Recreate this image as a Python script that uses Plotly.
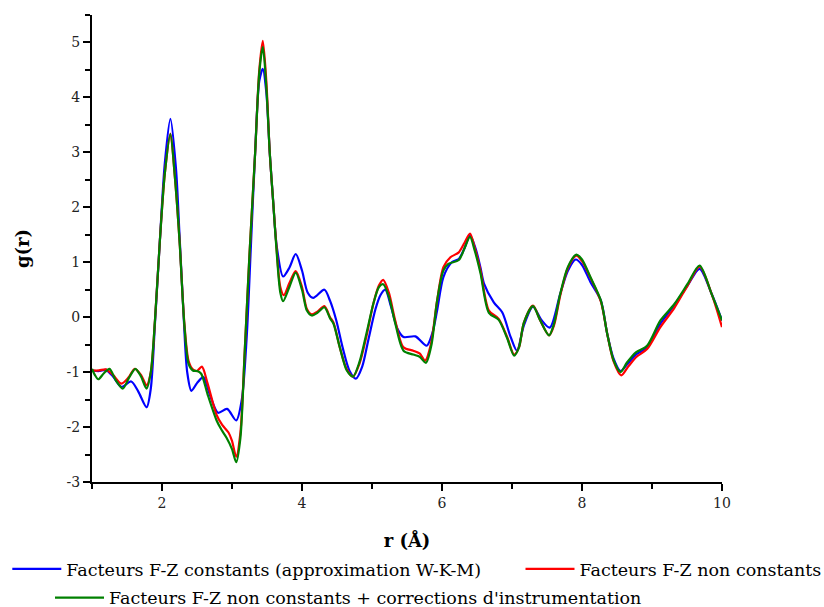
import plotly.graph_objects as go

# g(r) radial distribution, three treatments of the F-Z factors
r_wkm = [1.00, 1.10, 1.20, 1.30, 1.42, 1.56, 1.66, 1.78, 1.84, 1.90, 1.97, 2.04, 2.12, 2.20, 2.25,
         2.31, 2.36, 2.42, 2.50, 2.59, 2.68, 2.80, 2.93, 3.06, 3.14, 3.21, 3.27, 3.33, 3.39, 3.44,
         3.49, 3.54, 3.59, 3.64, 3.73, 3.82, 3.91, 4.00, 4.08, 4.16, 4.32, 4.40, 4.49, 4.58, 4.68,
         4.77, 4.86, 4.95, 5.05, 5.12, 5.19, 5.27, 5.36, 5.45, 5.62, 5.78, 5.86, 5.93, 6.02, 6.14,
         6.24, 6.32, 6.40, 6.48, 6.55, 6.60, 6.74, 6.86, 6.98, 7.07, 7.17, 7.30, 7.42, 7.54, 7.69,
         7.80, 7.91, 8.00, 8.12, 8.27, 8.36, 8.45, 8.55, 8.65, 8.77, 8.93, 9.12, 9.32, 9.51, 9.68,
         9.85, 10.00]
g_wkm = [-0.97, -0.98, -0.96, -1.08, -1.27, -1.17, -1.35, -1.64, -1.30, -0.10, 1.40, 2.80, 3.61, 2.70, 1.50,
         0.00, -1.00, -1.34, -1.20, -1.09, -1.40, -1.74, -1.67, -1.88, -1.50, -0.36, 1.30, 2.98, 4.30, 4.52,
         4.10, 2.98, 2.07, 1.28, 0.74, 0.90, 1.15, 0.85, 0.45, 0.35, 0.50, 0.30, -0.06, -0.55, -0.98,
         -1.12, -0.90, -0.40, 0.15, 0.40, 0.50, 0.20, -0.20, -0.36, -0.35, -0.52, -0.30, 0.12, 0.73, 1.00,
         1.06, 1.25, 1.49, 1.25, 0.90, 0.61, 0.27, 0.09, -0.36, -0.61, -0.15, 0.19, -0.05, -0.19, 0.43,
         0.85, 1.05, 0.95, 0.64, 0.30, -0.30, -0.75, -0.98, -0.85, -0.68, -0.55, -0.12, 0.22, 0.58, 0.88,
         0.43, -0.06]

r_var = [1.00, 1.10, 1.20, 1.30, 1.42, 1.52, 1.61, 1.70, 1.78, 1.84, 1.90, 1.97, 2.04, 2.12, 2.18,
         2.25, 2.32, 2.38, 2.44, 2.50, 2.57, 2.65, 2.78, 2.86, 2.95, 3.00, 3.06, 3.12, 3.18, 3.25,
         3.33, 3.39, 3.44, 3.49, 3.54, 3.59, 3.64, 3.69, 3.74, 3.82, 3.91, 4.00, 4.07, 4.14, 4.22,
         4.32, 4.40, 4.45, 4.54, 4.64, 4.73, 4.82, 4.92, 5.02, 5.10, 5.16, 5.24, 5.33, 5.45, 5.59,
         5.68, 5.76, 5.84, 5.93, 6.02, 6.12, 6.24, 6.32, 6.40, 6.47, 6.55, 6.67, 6.81, 6.93, 7.03,
         7.10, 7.17, 7.30, 7.40, 7.53, 7.60, 7.69, 7.80, 7.92, 8.00, 8.12, 8.27, 8.36, 8.45, 8.56,
         8.66, 8.78, 8.93, 9.12, 9.32, 9.51, 9.68, 9.85, 10.00]
g_var = [-0.97, -0.97, -0.95, -1.05, -1.21, -1.10, -0.94, -1.05, -1.24, -1.00, -0.05, 1.40, 2.61, 3.34, 2.61,
         1.40, -0.12, -0.80, -0.95, -0.98, -0.90, -1.20, -1.78, -1.96, -2.10, -2.25, -2.54, -2.10, -0.67, 1.15,
         2.98, 4.50, 5.03, 4.30, 2.98, 2.07, 1.20, 0.55, 0.40, 0.62, 0.84, 0.55, 0.15, 0.05, 0.10,
         0.20, 0.00, -0.10, -0.55, -0.95, -1.08, -0.85, -0.35, 0.25, 0.58, 0.68, 0.45, -0.05, -0.55, -0.61,
         -0.66, -0.79, -0.50, 0.30, 0.91, 1.09, 1.18, 1.35, 1.52, 1.25, 0.85, 0.12, -0.03, -0.36, -0.68,
         -0.55, -0.10, 0.21, -0.05, -0.33, -0.15, 0.40, 0.90, 1.12, 1.02, 0.72, 0.28, -0.30, -0.80, -1.06,
         -0.90, -0.72, -0.58, -0.18, 0.17, 0.58, 0.92, 0.43, -0.18]

r_instr = [1.00, 1.04, 1.09, 1.17, 1.25, 1.34, 1.44, 1.53, 1.62, 1.70, 1.78, 1.84, 1.90, 1.97, 2.04,
           2.12, 2.18, 2.25, 2.32, 2.38, 2.44, 2.50, 2.56, 2.65, 2.78, 2.85, 2.92, 3.00, 3.06, 3.12,
           3.18, 3.25, 3.33, 3.39, 3.44, 3.49, 3.54, 3.59, 3.64, 3.69, 3.73, 3.82, 3.91, 4.00, 4.07,
           4.14, 4.22, 4.32, 4.40, 4.45, 4.54, 4.64, 4.73, 4.82, 4.92, 5.02, 5.10, 5.16, 5.24, 5.33,
           5.45, 5.59, 5.68, 5.77, 5.85, 5.93, 6.02, 6.09, 6.24, 6.32, 6.40, 6.47, 6.55, 6.67, 6.81,
           6.93, 7.03, 7.10, 7.17, 7.30, 7.40, 7.53, 7.60, 7.69, 7.80, 7.92, 8.00, 8.12, 8.27, 8.36,
           8.45, 8.55, 8.64, 8.77, 8.93, 9.12, 9.32, 9.51, 9.68, 9.85, 10.00]
g_instr = [-0.94, -1.05, -1.13, -1.02, -0.94, -1.15, -1.30, -1.10, -0.94, -1.08, -1.30, -1.00, -0.05, 1.40, 2.61,
           3.33, 2.61, 1.40, -0.15, -0.85, -0.97, -0.98, -1.03, -1.40, -1.88, -2.05, -2.19, -2.40, -2.64, -2.20,
           -0.67, 1.15, 2.98, 4.45, 4.92, 4.20, 2.98, 2.07, 1.15, 0.45, 0.29, 0.55, 0.81, 0.50, 0.12,
           0.03, 0.08, 0.18, -0.02, -0.12, -0.55, -0.97, -1.08, -0.82, -0.30, 0.25, 0.55, 0.60, 0.38, -0.10,
           -0.61, -0.68, -0.72, -0.83, -0.50, 0.30, 0.85, 0.97, 1.04, 1.25, 1.46, 1.20, 0.80, 0.08, -0.05,
           -0.38, -0.70, -0.55, -0.10, 0.20, -0.05, -0.33, -0.12, 0.43, 0.92, 1.14, 1.05, 0.73, 0.30, -0.30,
           -0.78, -1.00, -0.83, -0.64, -0.52, -0.06, 0.24, 0.61, 0.94, 0.43, -0.06]

names = [
    "Facteurs F-Z constants (approximation W-K-M)",
    "Facteurs F-Z non constants",
    "Facteurs F-Z non constants + corrections d'instrumentation",
]
colors = ["#0000ff", "#ff0000", "#008000"]
x_ticks = [2, 4, 6, 8, 10]
y_ticks = [-3, -2, -1, 0, 1, 2, 3, 4, 5]

SERIF = "DejaVu Serif"

fig = go.Figure()
series = [(r_wkm, g_wkm), (r_var, g_var), (r_instr, g_instr)]
legend_ids = ["legend", "legend2", "legend3"]
for (rv, gv), name, col, lg in zip(series, names, colors, legend_ids):
    fig.add_trace(go.Scatter(
        x=rv, y=gv, name=name, mode="lines", legend=lg, showlegend=True,
        line=dict(color=col, width=2.2, shape="spline", smoothing=0.8),
    ))

axis_common = dict(
    showline=True, linecolor="black", linewidth=2, mirror=False,
    showgrid=False, zeroline=False,
    ticks="outside", ticklen=7, tickwidth=2, tickcolor="black",
    tickfont=dict(family=SERIF, size=14, color="#222"),
)

legend_common = dict(
    xref="container", yref="container", xanchor="left", yanchor="middle",
    orientation="h", itemwidth=49, bgcolor="rgba(0,0,0,0)", visible=True,
    font=dict(family=SERIF, size=17.5, color="black"),
)

fig.update_layout(
    width=824, height=607,
    showlegend=True,
    margin=dict(l=92, r=102, t=15, b=125, autoexpand=False),
    plot_bgcolor="white", paper_bgcolor="white",
    xaxis=dict(
        range=[1, 10], tickvals=x_ticks, ticktext=[str(v) for v in x_ticks],
        minor=dict(dtick=1, tick0=0, ticks="outside", ticklen=5, tickwidth=2, tickcolor="black"),
        title=dict(text="<b>r (Å)</b>", font=dict(family=SERIF, size=18, color="black"), standoff=26),
        **axis_common,
    ),
    yaxis=dict(
        range=[-3, 5.5], tickvals=y_ticks, ticktext=[str(v) for v in y_ticks],
        minor=dict(dtick=0.5, tick0=0, ticks="outside", ticklen=5, tickwidth=2, tickcolor="black"),
        title=dict(text="<b>g(r)</b>", font=dict(family=SERIF, size=18, color="black"), standoff=32),
        **axis_common,
    ),
    legend=dict(x=7.3 / 824, y=1 - 569 / 607, **legend_common),
    legend2=dict(x=520.5 / 824, y=1 - 569 / 607, **legend_common),
    legend3=dict(x=50 / 824, y=1 - 597.7 / 607, **legend_common),
)

fig.write_html("out.html")
